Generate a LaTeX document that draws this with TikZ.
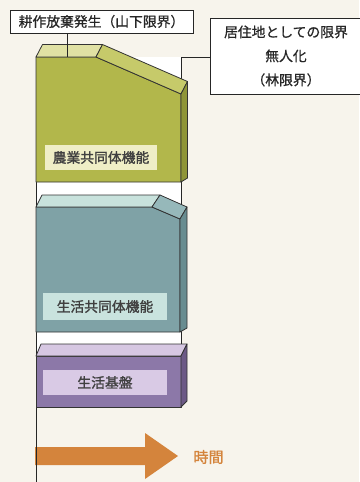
\documentclass[tikz,border=0pt]{standalone}
\usepackage{fontspec}
\newfontfamily\jp[FakeBold=0.7]{Noto Sans CJK JP}
\newfontfamily\jpbold[FakeBold=1.6]{Noto Sans CJK JP}
\usepackage{tikz}
\definecolor{paper}{HTML}{F7F4EC}
\definecolor{agfront}{HTML}{B2B74B}
\definecolor{agtop}{HTML}{E0E1A4}
\definecolor{agslope}{HTML}{C6CA6A}
\definecolor{agside}{HTML}{8F9538}
\definecolor{agtag}{HTML}{EFEEC6}
\definecolor{lifefront}{HTML}{7FA2A6}
\definecolor{lifetop}{HTML}{C8E2DC}
\definecolor{lifeslope}{HTML}{96B8BA}
\definecolor{lifeside}{HTML}{688C90}
\definecolor{lifetag}{HTML}{C9E3DE}
\definecolor{basefront}{HTML}{8C78A8}
\definecolor{basetop}{HTML}{D6C7E2}
\definecolor{baseside}{HTML}{6C5986}
\definecolor{basetag}{HTML}{D9CAE5}
\definecolor{timeorange}{HTML}{D4843C}

\begin{document}
\begin{tikzpicture}[x=1pt,y=-1pt,
		labelbox/.style={draw=black!85, line width=0.9pt, fill=white, inner sep=0pt, font=\jp\fontsize{13.8}{24}\selectfont, text=black!85},
		tagbox/.style={inner sep=0pt, font=\jpbold\fontsize{13.8}{16}\selectfont, text=black!75},
		face/.style={draw=black!80, line width=0.8pt, line join=round}]
		%%%%% START %%%%%
		
		\fill[paper] (0, 0) rectangle (359, 482);
		\useasboundingbox (0, 0) rectangle (359, 482);
		
		% time arrow
		\fill[timeorange] (35, 447) -- (145, 447) -- (145, 433) -- (178, 456) -- (145, 479) -- (145, 465) -- (35, 465) -- cycle;
		\node[font=\jpbold\fontsize{15}{16}\selectfont, text=timeorange, anchor=west] (time) at (190, 457) {時間};
		
		% frame behind the boxes
		\fill[white] (36, 57) rectangle (181, 357);
		\draw[line width=0.9pt, black!85] (36, 57) -- (36, 482);
		
		% labels
		\node[labelbox, minimum width=183pt, minimum height=23pt] (abandon) at (101.5, 21.5) {耕作放棄発生（山下限界）};
		\node[labelbox, minimum width=152pt, minimum height=76pt, align=center] (limit) at (286, 56) {居住地としての限界\\無人化\\（林限界）};
		
		\coordinate (limitcorner) at (181, 57);
		\coordinate (limitfoot) at (181, 357);
		\draw[line width=0.9pt, black!85] (limit.west |- limitcorner) -- (limitcorner) -- (limitfoot);
		
		% agriculture community block
		\draw[face, fill=agfront] (36, 57) -- (96, 57) -- (181, 94) -- (181, 182) -- (36, 182) -- cycle;
		\draw[face, fill=agtop] (36, 57) -- (42.5, 44.5) -- (102.5, 44.5) -- (96, 57) -- cycle;
		\draw[face, fill=agslope] (96, 57) -- (102.5, 44.5) -- (187.5, 81.5) -- (181, 94) -- cycle;
		\draw[face, fill=agside] (181, 94) -- (187.5, 81.5) -- (187.5, 178) -- (181, 182) -- cycle;
		\node[tagbox, fill=agtag, minimum width=112pt, minimum height=25pt] (agtag) at (101, 157.5) {農業共同体機能};
		
		% daily life community block
		\draw[face, fill=lifefront] (36, 207) -- (152, 207) -- (180, 219) -- (180, 332) -- (36, 332) -- cycle;
		\draw[face, fill=lifetop] (36, 207) -- (42, 195) -- (160, 195) -- (152, 207) -- cycle;
		\draw[face, fill=lifeslope] (152, 207) -- (160, 195) -- (187, 207) -- (180, 219) -- cycle;
		\draw[face, fill=lifeside] (180, 219) -- (187, 207) -- (187, 328) -- (180, 332) -- cycle;
		\node[tagbox, fill=lifetag, minimum width=124pt, minimum height=27pt] (lifetag) at (105, 306.5) {生活共同体機能};
		
		% living base block
		\draw[face, fill=basefront] (36, 356) rectangle (181, 407);
		\draw[face, fill=basetop] (36, 356) -- (41, 344) -- (187, 344) -- (181, 356) -- cycle;
		\draw[face, fill=baseside] (181, 356) -- (187, 344) -- (187, 401) -- (181, 407) -- cycle;
		\node[tagbox, fill=basetag, minimum width=124pt, minimum height=25pt] (basetag) at (105, 382.5) {生活基盤};
		
		\coordinate (abandonfoot) at (67, 57);
		\draw[line width=0.9pt, black!85] (abandon.south -| abandonfoot) -- (abandonfoot);
		
		%%%%% END %%%%%
	\end{tikzpicture}
\end{document}
